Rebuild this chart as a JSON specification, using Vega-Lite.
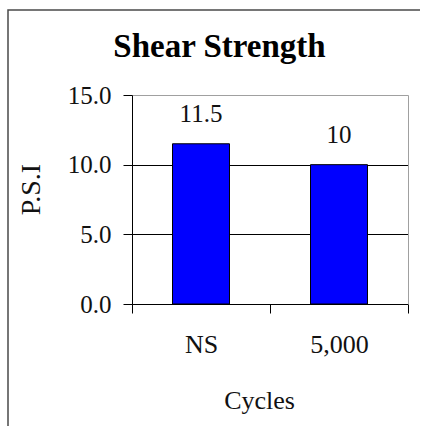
{
  "$schema": "https://vega.github.io/schema/vega-lite/v6.json",
  "width": 415,
  "height": 416,
  "autosize": {"type": "none"},
  "padding": {"left": 8, "top": 10, "right": 0, "bottom": 0},
  "background": "white",
  "title": {
    "text": "Shear Strength",
    "font": "Liberation Serif",
    "fontSize": 33,
    "fontWeight": "bold",
    "color": "black",
    "anchor": "middle",
    "frame": "group",
    "dx": 4,
    "offset": -54
  },
  "config": {
    "view": {"stroke": "#4a4a4a", "strokeWidth": 1.5, "strokeDash": [412, 834, 416]},
    "font": "Liberation Serif"
  },
  "data": {
    "values": [
      {"Cycles": "NS", "PSI": 11.5},
      {"Cycles": "5,000", "PSI": 10}
    ]
  },
  "resolve": {"axis": {"x": "independent", "y": "independent"}},
  "layer": [
    {
      "mark": {"type": "bar", "color": "#0000ff", "stroke": "black", "strokeWidth": 1, "width": {"band": 0.413}},
      "encoding": {
        "x": {
          "field": "Cycles",
          "type": "nominal",
          "sort": null,
          "scale": {"range": [124, 400], "paddingInner": 0, "paddingOuter": 0},
          "axis": {
            "orient": "bottom",
            "offset": -122,
            "title": "Cycles",
            "titleX": 251,
            "labelAngle": 0,
            "labelFont": "Liberation Serif",
            "labelFontSize": 26,
            "labelColor": "#111",
            "labelPadding": 18,
            "titleFont": "Liberation Serif",
            "titleFontSize": 26,
            "titleFontWeight": "normal",
            "titleColor": "#111",
            "titlePadding": 30,
            "domainColor": "black",
            "tickColor": "black",
            "tickSize": 9,
            "tickBand": "extent",
            "grid": false
          }
        },
        "y": {
          "field": "PSI",
          "type": "quantitative",
          "scale": {"domain": [0, 15], "nice": false, "range": [294, 85]},
          "axis": {
            "orient": "left",
            "offset": -124,
            "title": "P.S.I",
            "titleY": 179,
            "values": [0, 5, 10, 15],
            "format": ".1f",
            "labelFont": "Liberation Serif",
            "labelFontSize": 25,
            "labelColor": "#111",
            "labelPadding": 12,
            "titleFont": "Liberation Serif",
            "titleFontSize": 28,
            "titleFontWeight": "normal",
            "titleColor": "#111",
            "titlePadding": 22,
            "domainColor": "black",
            "tickColor": "black",
            "tickSize": 9,
            "grid": true,
            "gridColor": {"condition": {"test": "datum.value == 15", "value": "transparent"}, "value": "black"},
            "gridOpacity": 1,
            "gridWidth": 1
          }
        }
      }
    },
    {
      "mark": {"type": "text", "font": "Liberation Serif", "fontSize": 25, "color": "#111", "baseline": "alphabetic", "dy": -22},
      "encoding": {
        "x": {
          "field": "Cycles",
          "type": "nominal",
          "sort": null,
          "scale": {"range": [124, 400], "paddingInner": 0, "paddingOuter": 0},
          "axis": {
            "orient": "top",
            "offset": -85,
            "title": null,
            "labels": false,
            "ticks": false,
            "grid": false,
            "domainColor": "#a0a0a0",
            "domainWidth": 1
          }
        },
        "y": {
          "field": "PSI",
          "type": "quantitative",
          "scale": {"domain": [0, 15], "nice": false, "range": [294, 85]},
          "axis": {
            "orient": "right",
            "offset": -15,
            "title": null,
            "labels": false,
            "ticks": false,
            "grid": false,
            "domainColor": "#a0a0a0",
            "domainWidth": 1
          }
        },
        "text": {"field": "PSI", "type": "quantitative"}
      }
    }
  ]
}
